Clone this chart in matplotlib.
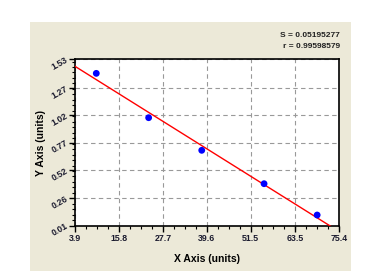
import numpy as np
import matplotlib
matplotlib.use("Agg")
import matplotlib.pyplot as plt
from matplotlib.patches import Rectangle
from matplotlib.ticker import AutoMinorLocator

# data
x_vals = [9.6, 23.8, 38.2, 55.1, 69.5]
y_vals = [1.402, 0.997, 0.699, 0.394, 0.108]
x_ticks = [3.9, 15.8, 27.7, 39.6, 51.5, 63.5, 75.4]
y_ticks = [0.01, 0.26, 0.52, 0.77, 1.02, 1.27, 1.53]
stats_text = ["S = 0.05195277", "r = 0.99598579"]

plt.rcParams['font.family'] = ['Liberation Sans', 'DejaVu Sans']

fig = plt.figure(figsize=(3.9, 2.71), dpi=100)

# beige panel behind the chart
panel = Rectangle((0.077, 0.0), 0.823, 0.919, transform=fig.transFigure,
                  facecolor='#ECE9D8', edgecolor='none', zorder=-1)
fig.patches.append(panel)

ax = fig.add_axes([0.193, 0.167, 0.676, 0.614])
ax.set_zorder(2)
ax.set_facecolor('white')

# regression line
slope, icpt = np.polyfit(x_vals, y_vals, 1)
xl = np.array([x_ticks[0], x_ticks[-1]])
ax.plot(xl, slope * xl + icpt, color='#FF0000', lw=1.0, zorder=3)

ax.scatter(x_vals, y_vals, s=24, color='#0000FF', zorder=4, edgecolors='none')

ax.set_xlim(x_ticks[0], x_ticks[-1])
ax.set_ylim(y_ticks[0], y_ticks[-1])
ax.set_xticks(x_ticks)
ax.set_yticks(y_ticks)
ax.set_xticklabels([f"{v:.1f}" for v in x_ticks], fontsize=6.3, fontweight='bold', color='#1a1a2e')
ax.set_yticklabels([f"{v:.2f}" for v in y_ticks], fontsize=6.3, fontweight='bold', color='#1a1a2e',
                   rotation=30, rotation_mode='anchor', ha='right', va='center')
ax.xaxis.set_minor_locator(AutoMinorLocator(4))
ax.yaxis.set_minor_locator(AutoMinorLocator(5))
ax.tick_params(which='major', length=4, width=1, direction='out', pad=2)
ax.tick_params(which='minor', length=2, width=0.8, direction='out')
ax.grid(True, which='major', color='#999999', ls=(0, (4, 3)), lw=0.8)
for s in ax.spines.values():
    s.set_linewidth(1.2)
    s.set_color('black')

ax.set_xlabel("X Axis (units)", fontsize=7.5, fontweight='bold', labelpad=8)
ax.set_ylabel("Y Axis (units)", fontsize=7.5, fontweight='bold', labelpad=3)

fig.text(0.872, 0.868, stats_text[0], fontsize=6, fontweight='bold', ha='right', va='center', color='#222222')
fig.text(0.872, 0.830, stats_text[1], fontsize=6, fontweight='bold', ha='right', va='center', color='#222222')

fig.savefig("out.png", dpi=100)
